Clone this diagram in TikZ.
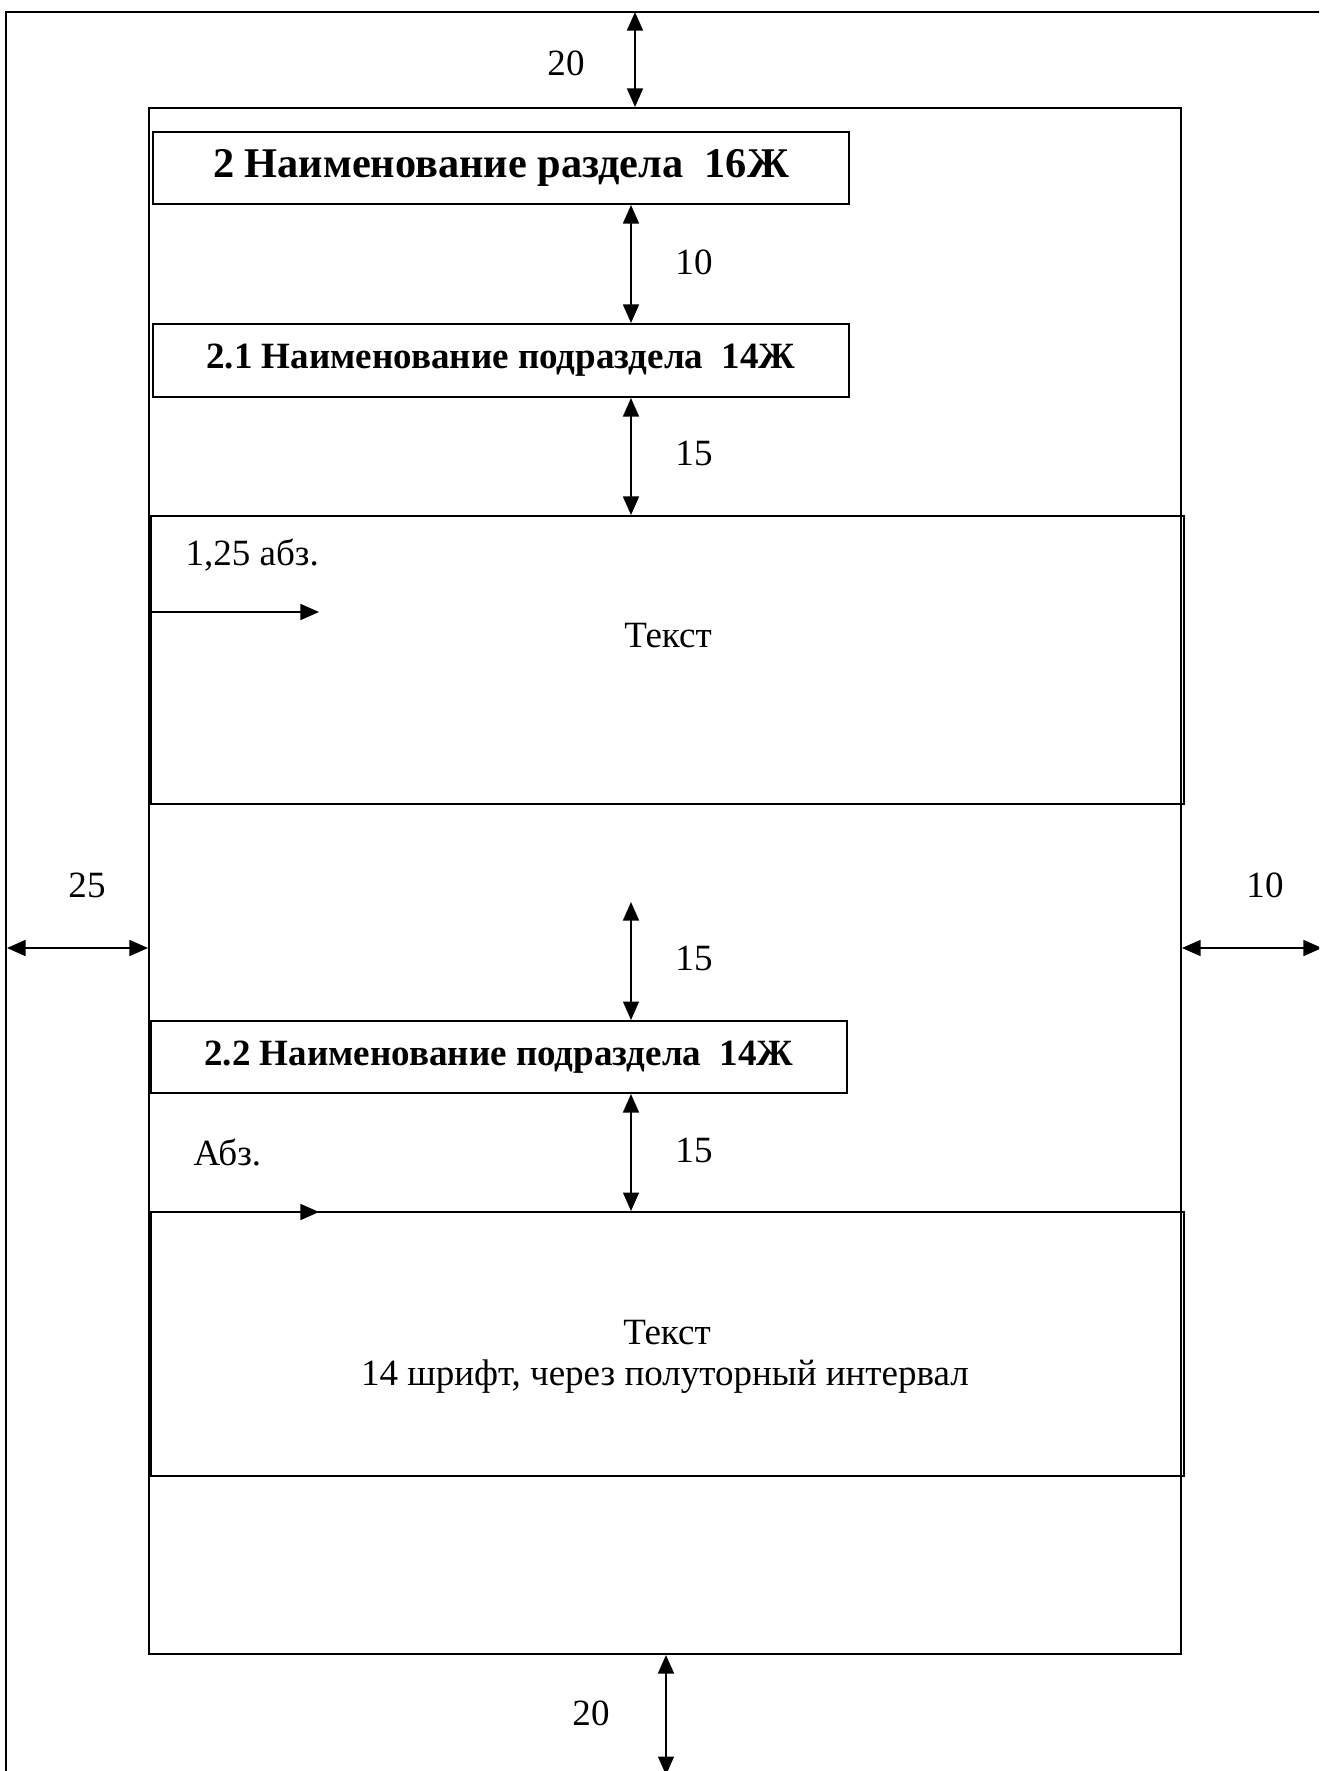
\documentclass[tikz,border=0pt]{standalone}
\usepackage{fontspec}
\setmainfont{Liberation Serif}
\usetikzlibrary{arrows.meta}
\newcommand\pxu{0.378pt}
\tikzset{
  frame/.style={draw, line width=0.75pt},
  boxnode/.style={draw, line width=0.75pt, inner sep=0pt, anchor=center},
  dim/.style={line width=0.7pt, {Triangle[length=7pt,width=6pt]}-{Triangle[length=7pt,width=6pt]}},
  onearrow/.style={line width=0.7pt, -{Triangle[length=7pt,width=6pt]}},
  lbl/.style={font=\fontsize{14}{17}\selectfont, inner sep=0pt},
  hbig/.style={font=\bfseries\fontsize{16}{19}\selectfont},
  hsub/.style={font=\bfseries\fontsize{14}{17}\selectfont},
}
\begin{document}
\begin{tikzpicture}[x=\pxu, y=-\pxu]
\useasboundingbox (0,0) rectangle (1319,1771);
\clip (0,0) rectangle (1319,1771);
% outer sheet frame (partly out of view)
\draw[frame] (6,1800) -- (6,12) -- (1340,12);
\coordinate (otop) at (635,12);
\coordinate (oleft) at (7,948);
\coordinate (oright) at (1322,948);
\coordinate (obot) at (666,1775);
% page frame
\node[boxnode, minimum width=1032*\pxu, minimum height=1546*\pxu] (page) at (665,881) {};
% boxes
\node[boxnode, minimum width=696*\pxu, minimum height=72*\pxu, hbig] (h0) at (501,168) {2 Наименование раздела\ \ 16Ж};
\node[boxnode, minimum width=696*\pxu, minimum height=73*\pxu, hsub] (h1) at (501,360.5) {2.1 Наименование подраздела\ \ 14Ж};
\node[boxnode, minimum width=1033*\pxu, minimum height=288*\pxu] (t1) at (667.5,660) {};
\node[boxnode, minimum width=696*\pxu, minimum height=72*\pxu, hsub] (h2) at (499,1057) {2.2 Наименование подраздела\ \ 14Ж};
\node[boxnode, minimum width=1033*\pxu, minimum height=264*\pxu] (t2) at (667.5,1344) {};
% x positions of vertical dimension arrows
\coordinate (ax) at (631,0);
\coordinate (bx) at (666,0);
\coordinate (free) at (631,902);
% vertical dimensions
\draw[dim] (otop) -- (page.north -| otop);
\draw[dim] (h0.south -| ax) -- (h1.north -| ax);
\draw[dim] (h1.south -| ax) -- (t1.north -| ax);
\draw[dim] (free) -- (h2.north -| ax);
\draw[dim] (h2.south -| ax) -- (t2.north -| ax);
\draw[dim] (page.south -| bx) -- (obot);
% horizontal dimensions
\draw[dim] (oleft) -- (page.west |- oleft);
\draw[dim] (page.east |- oright) -- (oright);
% paragraph indent arrows
\coordinate (ind1) at (319,612);
\coordinate (ind2) at (319,1212);
\draw[onearrow] (t1.west |- ind1) -- (ind1);
\draw[onearrow] (t2.west |- ind2) -- (ind2);
% labels
\node[lbl] (l20t) at (566,63) {20};
\node[lbl] (l10a) at (694,262) {10};
\node[lbl] (l15a) at (694,453) {15};
\node[lbl, anchor=west] (labz1) at (185,555) {1,25 абз.};
\node[lbl] (txt1) at (668,636) {Текст};
\node[lbl] (l25) at (87,885) {25};
\node[lbl] (l10r) at (1265,885) {10};
\node[lbl] (l15b) at (694,958) {15};
\node[lbl] (l15c) at (694,1150) {15};
\node[lbl, anchor=west] (labz2) at (193,1152) {Абз.};
\node[lbl] (txt2) at (667,1333) {Текст};
\node[lbl] (txt3) at (665,1377) {14 шрифт, через полуторный интервал};
\node[lbl] (l20b) at (591,1713) {20};
\end{tikzpicture}
\end{document}
